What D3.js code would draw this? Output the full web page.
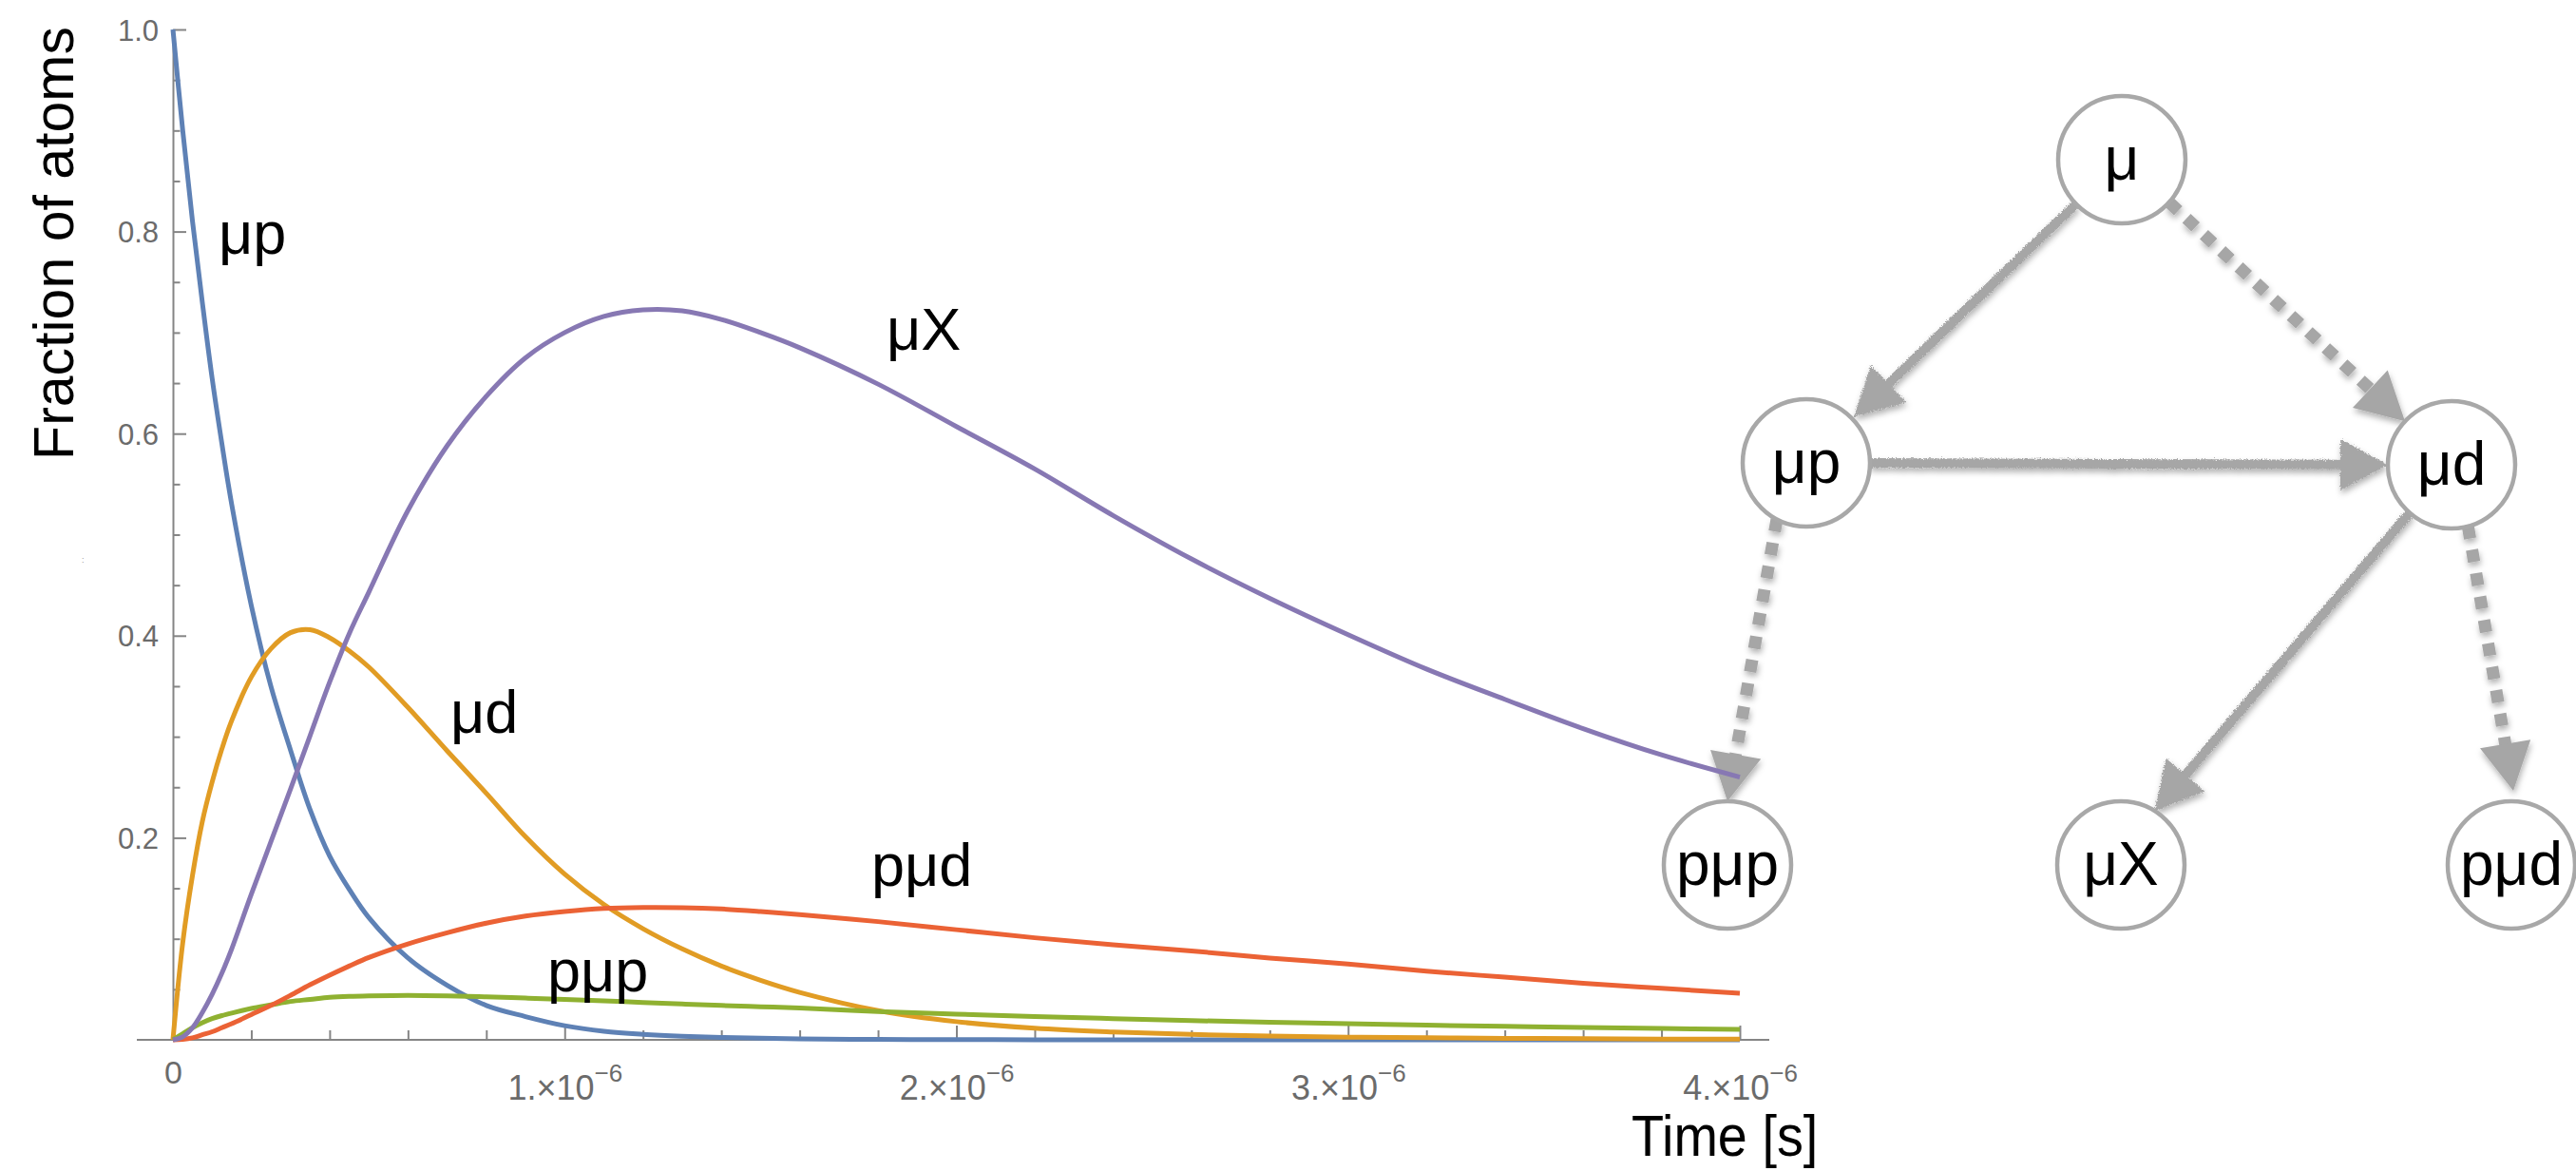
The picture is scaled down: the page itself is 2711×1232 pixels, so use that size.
<!DOCTYPE html>
<html>
<head>
<meta charset="utf-8">
<script src="https://cdn.jsdelivr.net/npm/d3@7"></script>
<style>
  html, body { margin: 0; padding: 0; background: #ffffff; }
  svg { display: block; }
  text { font-family: "Liberation Sans", Arial, Helvetica, sans-serif; }
</style>
</head>
<body>
<svg id="fig" width="2711" height="1232"></svg>
<script>
// ---- data: fraction of atoms in each state vs. time (time in microseconds) ----
const timeUs = [0, 0.025, 0.05, 0.075, 0.1, 0.125, 0.15, 0.2, 0.25, 0.3, 0.35, 0.4, 0.45, 0.5,
  0.6, 0.7, 0.8, 0.9, 1.0, 1.1, 1.2, 1.3, 1.4, 1.5, 1.6, 1.8, 2.0, 2.2, 2.4, 2.6, 2.8, 3.0,
  3.2, 3.4, 3.6, 3.8, 4.0];

const muP = [1.0, 0.90, 0.81, 0.73, 0.655, 0.59, 0.53, 0.43, 0.35, 0.287, 0.228, 0.182, 0.149, 0.121,
  0.081, 0.054, 0.034, 0.023, 0.014, 0.0085, 0.0055, 0.0036, 0.0024, 0.0016, 0.001, 0.0004, 0.0002,
  0.0001, 0, 0, 0, 0, 0, 0, 0, 0, 0];

const muD = [0, 0.096, 0.163, 0.216, 0.255, 0.288, 0.316, 0.359, 0.387, 0.403, 0.406, 0.398, 0.385, 0.369,
  0.329, 0.286, 0.244, 0.201, 0.164, 0.134, 0.110, 0.090, 0.073, 0.059, 0.047, 0.029, 0.018, 0.0115,
  0.0078, 0.0053, 0.0037, 0.0027, 0.002, 0.0015, 0.0011, 0.0008, 0.0006];

const muX = [0, 0.003, 0.012, 0.027, 0.045, 0.066, 0.09, 0.144, 0.196, 0.248, 0.301, 0.354, 0.402, 0.443,
  0.524, 0.588, 0.637, 0.675, 0.700, 0.716, 0.7225, 0.7215, 0.713, 0.700, 0.685, 0.649, 0.607, 0.565,
  0.519, 0.476, 0.437, 0.401, 0.367, 0.337, 0.308, 0.282, 0.26];

const pMuD = [0, 0.0005, 0.002, 0.005, 0.008, 0.012, 0.016, 0.025, 0.034, 0.044, 0.0545, 0.064, 0.073, 0.0815,
  0.095, 0.106, 0.1155, 0.1225, 0.127, 0.130, 0.131, 0.1308, 0.1295, 0.127, 0.124, 0.117, 0.109, 0.101,
  0.094, 0.088, 0.081, 0.075, 0.068, 0.062, 0.056, 0.051, 0.046];

const pMuP = [0, 0.006, 0.012, 0.017, 0.021, 0.024, 0.0265, 0.031, 0.0345, 0.038, 0.040, 0.042, 0.043, 0.0435,
  0.044, 0.0435, 0.0425, 0.0413, 0.040, 0.0385, 0.037, 0.0355, 0.034, 0.0328, 0.0315, 0.028, 0.0255,
  0.023, 0.021, 0.019, 0.0175, 0.016, 0.0145, 0.0133, 0.0122, 0.0112, 0.0104];

const seriesNames = ["μp", "μd", "pμp", "pμd", "μX"];
const seriesValues = [muP, muD, pMuP, pMuD, muX];

const xMajorTicks = [0, 1, 2, 3, 4];          // units of 10^-6 s
const yMajorTicks = [0.2, 0.4, 0.6, 0.8, 1.0];

// ---- diagram of the transitions ----
const stateNames = ["μ", "μp", "μd", "pμp", "μX", "pμd"];
const transitions = [
  { from: "μ",  to: "μp",  kind: "solid"  },
  { from: "μ",  to: "μd",  kind: "dotted" },
  { from: "μp", to: "μd",  kind: "solid"  },
  { from: "μp", to: "pμp", kind: "dotted" },
  { from: "μd", to: "μX",  kind: "solid"  },
  { from: "μd", to: "pμd", kind: "dotted" }
];

// ---- styling / layout ----
const colors = { "μp": "#5E81B5", "μd": "#E19C24", "pμp": "#8FB131", "pμd": "#EB6235", "μX": "#8778B3" };
const curveLabelPos = { "μp": [230, 267], "μX": [933, 368], "μd": [474, 771], "pμd": [917, 932], "pμp": [576, 1043] };
const nodePos = {
  "μ": [2233, 168], "μp": [1901, 487], "μd": [2580, 489],
  "pμp": [1818, 910], "μX": [2232, 910], "pμd": [2643, 910]
};
// attachment angles (deg) on source / target circle, extra gap before the target
const edgeGeom = {
  "μ>μp": [136, -44, 3], "μ>μd": [42, -137, 0], "μp>μd": [0, 180, 0],
  "μp>pμp": [117.6, -90, 0], "μd>μX": [131, -58, 0], "μd>pμd": [75, -88.5, 11]
};
const nodeR = 67;
const axisColor = "#858585";
const tickTextColor = "#6b6b6b";

const svg = d3.select("#fig");

const defs = svg.append("defs");
const chalk = defs.append("filter").attr("id", "chalk")
  .attr("filterUnits", "userSpaceOnUse").attr("x", 1600).attr("y", 0).attr("width", 1111).attr("height", 1232);
chalk.append("feTurbulence").attr("type", "fractalNoise").attr("baseFrequency", 0.7)
  .attr("numOctaves", 2).attr("seed", 7).attr("result", "n");
chalk.append("feDisplacementMap").attr("in", "SourceGraphic").attr("in2", "n").attr("scale", 5)
  .attr("xChannelSelector", "R").attr("yChannelSelector", "G").attr("result", "r");
chalk.append("feDropShadow").attr("in", "r").attr("dx", 1).attr("dy", 4).attr("stdDeviation", 3)
  .attr("flood-color", "#000").attr("flood-opacity", 0.3);
const shade = defs.append("filter").attr("id", "shade")
  .attr("filterUnits", "userSpaceOnUse").attr("x", 1600).attr("y", 0).attr("width", 1111).attr("height", 1232);
shade.append("feDropShadow").attr("dx", 1).attr("dy", 4).attr("stdDeviation", 3)
  .attr("flood-color", "#000").attr("flood-opacity", 0.3);

// ---------- diagram ----------
const diag = svg.append("g");
const arrowColor = "#a6a6a6";
const headLen = 50, headHalf = 27;

function rad(a) { return a * Math.PI / 180; }

const solidG = diag.append("g").attr("filter", "url(#chalk)");
const dottedG = diag.append("g").attr("filter", "url(#shade)");

transitions.forEach(t => {
  const g = edgeGeom[t.from + ">" + t.to];
  const [sx, sy] = nodePos[t.from], [tx, ty] = nodePos[t.to];
  const p0 = [sx + nodeR * Math.cos(rad(g[0])), sy + nodeR * Math.sin(rad(g[0]))];
  const p1 = [tx + (nodeR + g[2]) * Math.cos(rad(g[1])), ty + (nodeR + g[2]) * Math.sin(rad(g[1]))];
  const dx = p1[0] - p0[0], dy = p1[1] - p0[1], len = Math.hypot(dx, dy);
  const ux = dx / len, uy = dy / len, px = -uy, py = ux;
  const base = [p1[0] - ux * headLen, p1[1] - uy * headLen];
  const target = t.kind === "solid" ? solidG : dottedG;
  target.append("line")
    .attr("x1", p0[0]).attr("y1", p0[1])
    .attr("x2", base[0] + ux * 4).attr("y2", base[1] + uy * 4)
    .attr("stroke", arrowColor)
    .attr("stroke-width", t.kind === "solid" ? 10 : 13)
    .attr("stroke-dasharray", t.kind === "solid" ? null : "13 12");
  target.append("path")
    .attr("d", d3.line()([
      p1,
      [base[0] + px * headHalf, base[1] + py * headHalf],
      [base[0] - px * headHalf, base[1] - py * headHalf]
    ]) + "Z")
    .attr("fill", arrowColor);
});

const nodeG = diag.selectAll("g.node").data(stateNames).join("g")
  .attr("class", "node")
  .attr("transform", d => `translate(${nodePos[d][0]},${nodePos[d][1]})`);
nodeG.append("circle").attr("r", nodeR)
  .attr("fill", "#ffffff").attr("stroke", "#a8a8a8").attr("stroke-width", 4.5);
nodeG.append("text").attr("text-anchor", "middle").attr("y", 21)
  .attr("font-size", 64).attr("fill", "#000").text(d => d);

// ---------- chart ----------
const x = d3.scaleLinear().domain([0, 4]).range([182, 1831]);
const y = d3.scaleLinear().domain([0, 1]).range([1094, 31]);

const chart = svg.append("g");

// x axis
const xAxisG = chart.append("g").attr("transform", `translate(0,${y(0)})`);
xAxisG.append("line").attr("x1", 144).attr("x2", 1862).attr("y1", 0).attr("y2", 0)
  .attr("stroke", axisColor).attr("stroke-width", 2);
const xMinor = d3.range(0, 4.0001, 0.2).filter(v => Math.abs(v - Math.round(v)) > 1e-6);
xAxisG.append("g")
  .call(d3.axisBottom(x).tickValues(xMinor).tickSizeInner(-10).tickSizeOuter(0).tickFormat(""))
  .call(g => g.select(".domain").remove())
  .call(g => g.selectAll("line").attr("stroke", axisColor).attr("stroke-width", 2));
xAxisG.append("g")
  .call(d3.axisBottom(x).tickValues(xMajorTicks.filter(v => v > 0)).tickSizeInner(-15).tickSizeOuter(0).tickFormat(""))
  .call(g => g.select(".domain").remove())
  .call(g => g.selectAll("line").attr("stroke", axisColor).attr("stroke-width", 2));
xAxisG.append("g")
  .call(d3.axisBottom(x).tickValues(xMajorTicks).tickSize(0).tickFormat(""))
  .call(g => g.select(".domain").remove())
  .call(g => g.selectAll(".tick").each(function (d) {
    const t = d3.select(this).append("text")
      .attr("text-anchor", "middle").attr("fill", tickTextColor);
    if (d === 0) {
      t.attr("y", 46).attr("font-size", 34).text("0");
    } else {
      t.attr("y", 63).attr("font-size", 36);
      t.append("tspan").text(`${d}.×10`);
      t.append("tspan").attr("font-size", 26).attr("dy", -19).text("−6");
    }
  }));

// y axis
const yAxisG = chart.append("g").attr("transform", `translate(${x(0)},0)`);
const yMinor = d3.range(1, 21).map(i => i * 0.05).filter(v => Math.abs(v * 5 - Math.round(v * 5)) > 1e-6);
yAxisG.append("g")
  .call(d3.axisLeft(y).tickValues(yMinor).tickSizeInner(-7.5).tickSizeOuter(0).tickFormat(""))
  .call(g => g.select(".domain").remove())
  .call(g => g.selectAll("line").attr("stroke", axisColor).attr("stroke-width", 2));
yAxisG.append("g")
  .call(d3.axisLeft(y).tickValues(yMajorTicks).tickSizeInner(-14).tickSizeOuter(0)
    .tickPadding(15).tickFormat(d3.format(".1f")))
  .call(g => g.select(".domain").attr("stroke", axisColor).attr("stroke-width", 2))
  .call(g => g.selectAll("line").attr("stroke", axisColor).attr("stroke-width", 2))
  .call(g => g.selectAll("text").attr("font-size", 31).attr("fill", tickTextColor)
    .attr("font-family", "'Liberation Sans', Arial, sans-serif").attr("dy", "0.36em"));

// curves
const line = d3.line()
  .x((d, i) => x(timeUs[i]))
  .y(d => y(d))
  .curve(d3.curveCatmullRom.alpha(0.5));

chart.append("g").selectAll("path")
  .data(seriesNames)
  .join("path")
  .attr("d", (name, i) => line(seriesValues[i]))
  .attr("fill", "none")
  .attr("stroke", name => colors[name])
  .attr("stroke-width", 5)
  .attr("stroke-linejoin", "round");

// curve labels
chart.append("g").selectAll("text")
  .data(seriesNames)
  .join("text")
  .attr("x", d => curveLabelPos[d][0])
  .attr("y", d => curveLabelPos[d][1])
  .attr("font-size", 63)
  .attr("fill", "#000")
  .text(d => d);

// axis titles
chart.append("text")
  .attr("transform", "translate(77,256) rotate(-90)")
  .attr("text-anchor", "middle")
  .attr("font-size", 59)
  .attr("fill", "#000")
  .text("Fraction of atoms");

chart.append("text")
  .attr("transform", "translate(1717,1216) scale(0.9,1)")
  .attr("font-size", 62)
  .attr("fill", "#000")
  .text("Time [s]");

chart.append("text")
  .attr("x", 86).attr("y", 592)
  .attr("font-size", 9).attr("fill", "#9a9a9a")
  .text(":");
</script>
</body>
</html>
